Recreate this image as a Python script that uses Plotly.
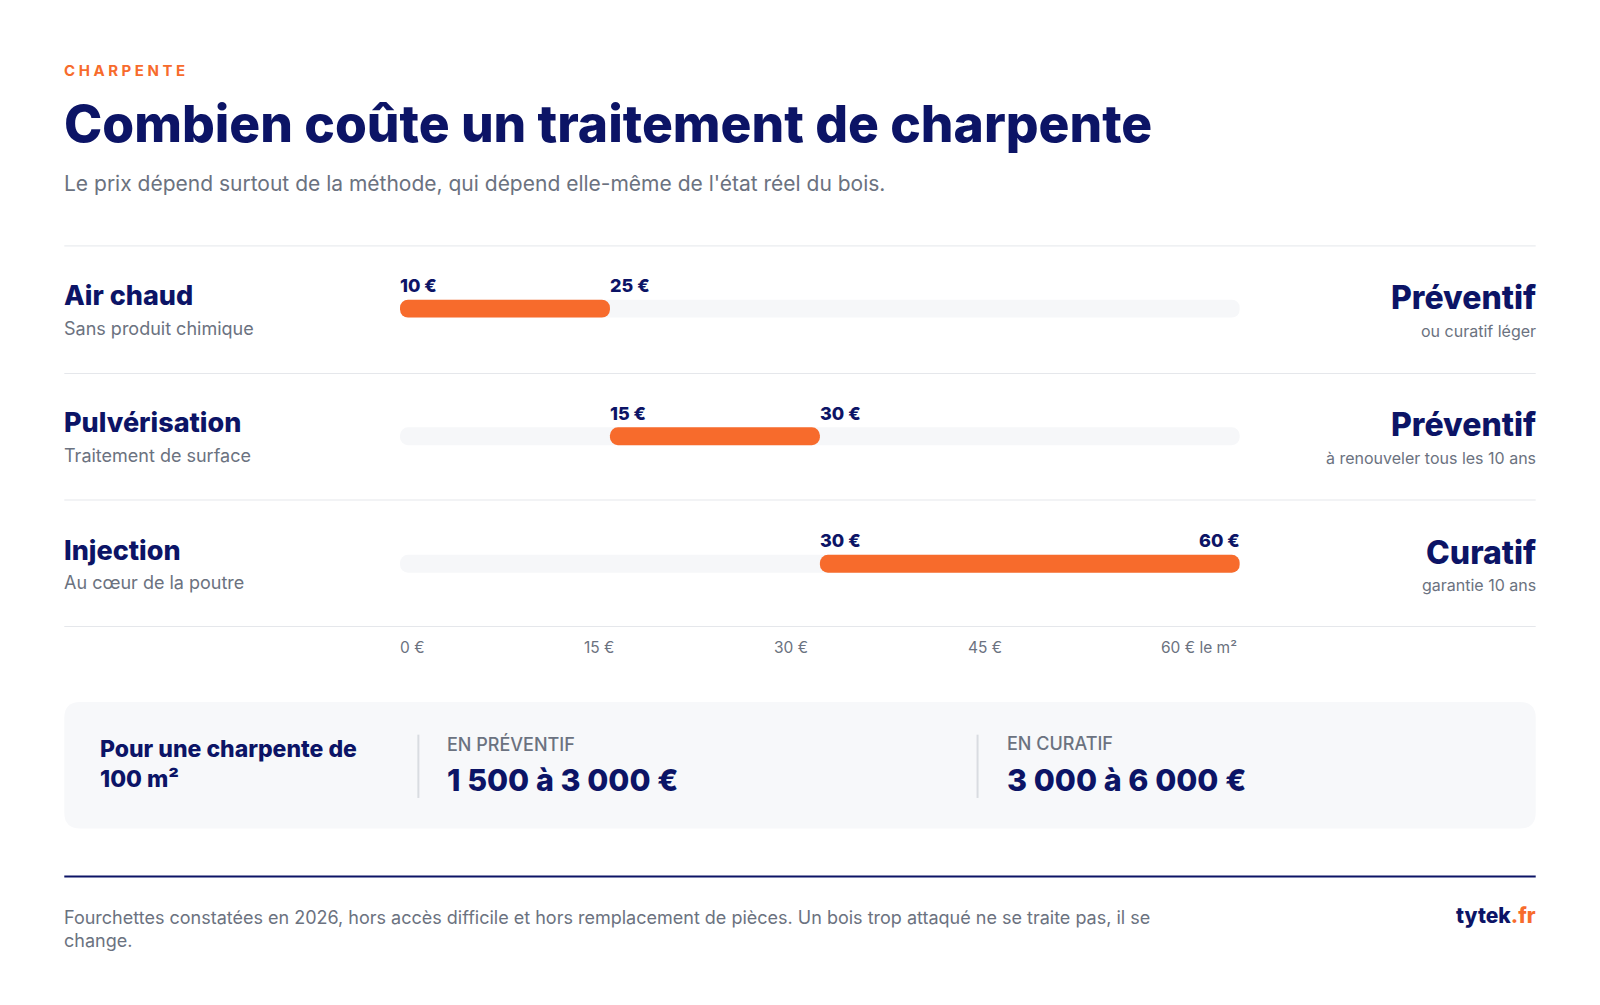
import re
import plotly.graph_objects as go

W, H = 1600, 1005
NAVY = "#0c1466"
ORANGE = "#f76b2c"
GRAY = "#6b7280"
LINE = "#e5e7eb"
FONT = "Inter"

methods = ["Air chaud", "Pulvérisation", "Injection"]
subtitles = ["Sans produit chimique", "Traitement de surface", "Au cœur de la poutre"]
price_lo = ["10 €", "15 €", "30 €"]
price_hi = ["25 €", "30 €", "60 €"]
track_lo = [0, 15, 30]   # position on the 0-60 track
track_hi = [15, 30, 60]
kinds = ["Préventif", "Préventif", "Curatif"]
kind_notes = ["ou curatif léger", "à renouveler tous les 10 ans", "garantie 10 ans"]
tick_labels = ["0 €", "15 €", "30 €", "45 €", "60 € le m²"]
tick_px = [392, 572, 759, 949, 1138]
rows = [0, 1, 2]

S, OFF = 0.98, 8  # screenshot scale and page body margin


def px(x):
    return (x / S - OFF) / W


def py(y):
    return 1 - (y / S - OFF) / H


fig = go.Figure()
fig.add_trace(go.Bar(x=[60] * 3, y=rows, base=[0] * 3, orientation="h", width=0.14,
                     marker=dict(color="#f6f7f9", cornerradius=9, line_width=0),
                     hoverinfo="skip"))
fig.add_trace(go.Bar(x=[h - l for l, h in zip(track_lo, track_hi)], y=rows, base=track_lo,
                     orientation="h", width=0.14,
                     marker=dict(color=ORANGE, cornerradius=9, line_width=0)))

ann = []
shapes = []


def txt(x, y, s, size, color=NAVY, weight=400, xanchor="left", yanchor="middle", **kw):
    dx = -2 if xanchor == "left" else 2
    ann.append(dict(x=px(x), y=py(y), xref="paper", yref="paper", text=s, showarrow=False,
                    xanchor=xanchor, yanchor=yanchor, xshift=dx,
                    font=dict(family=FONT, size=size, color=color, weight=weight), **kw))


def hline(y, color=LINE, width=1):
    shapes.append(dict(type="line", xref="paper", yref="paper", x0=px(63), x1=px(1505),
                       y0=py(y), y1=py(y), line=dict(color=color, width=width)))


txt(63, 69, "C H A R P E N T E", 15, ORANGE, 700)
txt(63, 121, "Combien coûte un traitement de charpente", 51.5, NAVY, 800)
txt(63, 180, "Le prix dépend surtout de la méthode, qui dépend elle-même de l'état réel du bois.",
    21, GRAY)

for y in [241, 366, 490, 614]:
    hline(y)

for r in rows:
    cy = 302 + 124.5 * r
    txt(63, cy - 12, methods[r], 27, NAVY, 800)
    txt(63, cy + 20, subtitles[r], 18, GRAY)
    txt(1505, cy - 10, kinds[r], 32, NAVY, 800, xanchor="right")
    txt(1505, cy + 22, kind_notes[r], 16, GRAY, xanchor="right")
    for xv, s in [(track_lo[r], price_lo[r]), (track_hi[r], price_hi[r])]:
        ann.append(dict(x=xv, y=r, xref="x", yref="y", text=s, showarrow=False,
                        xanchor="right" if xv == 60 else "left", yanchor="middle", yshift=23,
                        xshift=2 if xv == 60 else -2,
                        font=dict(family=FONT, size=18, color=NAVY, weight=800)))

for x, s in zip(tick_px, tick_labels):
    txt(x, 635, s, 15.5, GRAY)

# summary box with rounded corners (built in pixels, converted to paper)
x0, x1, y0, y1, rr = px(63) * W, px(1505) * W, (1 - py(688)) * H, (1 - py(812)) * H, 16
path = (f"M{x0 + rr},{y0} L{x1 - rr},{y0} Q{x1},{y0} {x1},{y0 + rr} L{x1},{y1 - rr} "
        f"Q{x1},{y1} {x1 - rr},{y1} L{x0 + rr},{y1} Q{x0},{y1} {x0},{y1 - rr} "
        f"L{x0},{y0 + rr} Q{x0},{y0} {x0 + rr},{y0} Z")
path = re.sub(r"(-?[\d.]+),(-?[\d.]+)",
              lambda m: f"{float(m.group(1)) / W},{1 - float(m.group(2)) / H}", path)
shapes.append(dict(type="path", xref="paper", yref="paper", path=path,
                   fillcolor="#f7f8fa", line_width=0, layer="below"))
for x in [410, 958]:
    shapes.append(dict(type="line", xref="paper", yref="paper", x0=px(x), x1=px(x),
                       y0=py(720), y1=py(782), line=dict(color="#d9dce1", width=2)))
txt(98, 749, "Pour une charpente de<br>100 m²", 23, NAVY, 800, align="left")
txt(438, 729, "EN PRÉVENTIF", 18, GRAY, 500)
txt(438, 764, "1 500 à 3 000 €", 30.5, NAVY, 800)
txt(987, 729, "EN CURATIF", 18, GRAY, 500)
txt(987, 764, "3 000 à 6 000 €", 30.5, NAVY, 800)

hline(859, NAVY, 2)
txt(63, 910, "Fourchettes constatées en 2026, hors accès difficile et hors remplacement de pièces. "
    "Un bois trop attaqué ne se traite pas, il se<br>change.", 18, GRAY, align="left")
txt(1505, 897, "tytek<span style='color:%s'>.fr</span>" % ORANGE, 21, NAVY, 800, xanchor="right")

fig.update_layout(
    width=W, height=H, margin=dict(l=0, r=0, t=0, b=0),
    paper_bgcolor="white", plot_bgcolor="white",
    barmode="overlay", showlegend=False,
    xaxis=dict(domain=[px(392), px(1215)], range=[0, 60], visible=False, fixedrange=True),
    yaxis=dict(domain=[py(615), py(240)], range=[2.5, -0.5], visible=False, fixedrange=True),
    annotations=ann, shapes=shapes,
)
fig.write_html("out.html")
